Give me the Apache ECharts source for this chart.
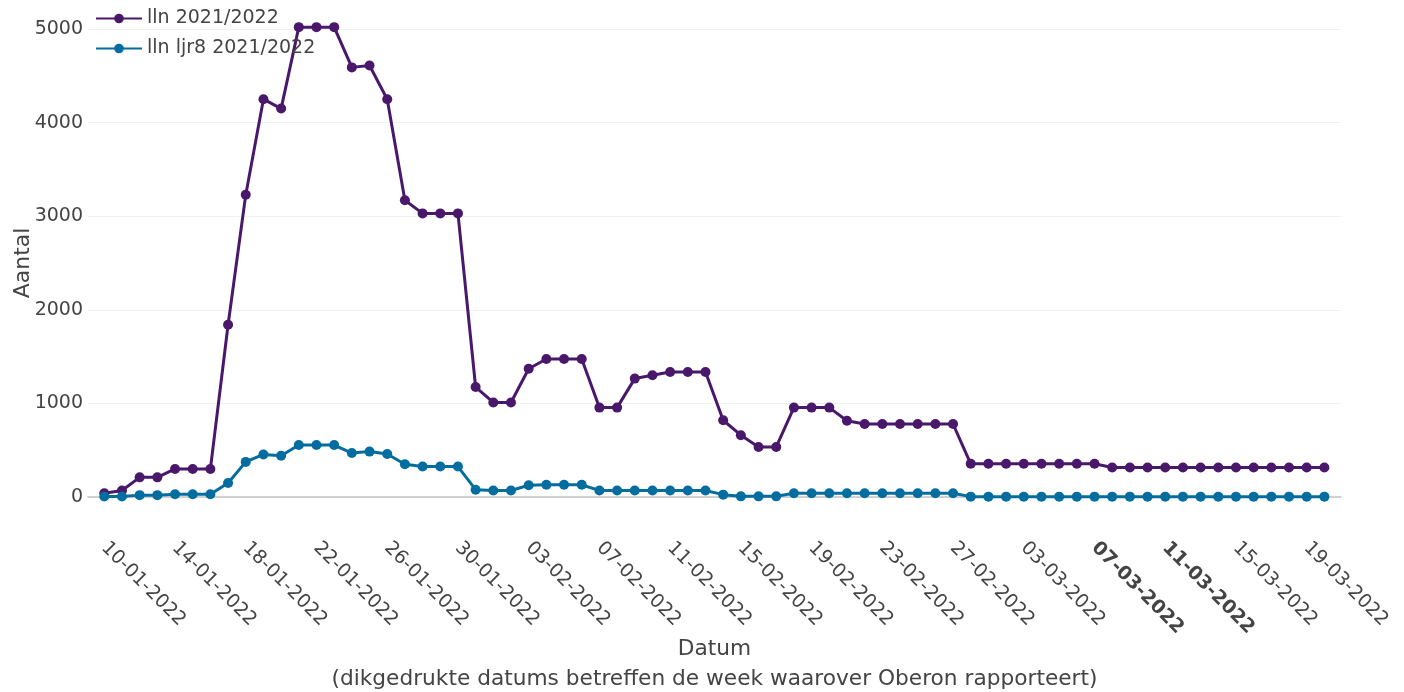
<!DOCTYPE html>
<html>
<head>
<meta charset="utf-8">
<script src="https://cdn.jsdelivr.net/npm/echarts@6/dist/echarts.min.js"></script>
<style>
html,body{margin:0;padding:0;background:#fff;}
#chart{width:1404px;height:692px;}
</style>
</head>
<body>
<div id="chart"></div>
<script>
// Dates (daily) 10-01-2022 .. 20-03-2022
const dates = [
  '10-01-2022','11-01-2022','12-01-2022','13-01-2022','14-01-2022','15-01-2022','16-01-2022','17-01-2022','18-01-2022','19-01-2022',
  '20-01-2022','21-01-2022','22-01-2022','23-01-2022','24-01-2022','25-01-2022','26-01-2022','27-01-2022','28-01-2022','29-01-2022',
  '30-01-2022','31-01-2022','01-02-2022','02-02-2022','03-02-2022','04-02-2022','05-02-2022','06-02-2022','07-02-2022','08-02-2022',
  '09-02-2022','10-02-2022','11-02-2022','12-02-2022','13-02-2022','14-02-2022','15-02-2022','16-02-2022','17-02-2022','18-02-2022',
  '19-02-2022','20-02-2022','21-02-2022','22-02-2022','23-02-2022','24-02-2022','25-02-2022','26-02-2022','27-02-2022','28-02-2022',
  '01-03-2022','02-03-2022','03-03-2022','04-03-2022','05-03-2022','06-03-2022','07-03-2022','08-03-2022','09-03-2022','10-03-2022',
  '11-03-2022','12-03-2022','13-03-2022','14-03-2022','15-03-2022','16-03-2022','17-03-2022','18-03-2022','19-03-2022','20-03-2022'
];
// Tick labels shown on the x axis
const tickDates = ['10-01-2022','14-01-2022','18-01-2022','22-01-2022','26-01-2022','30-01-2022','03-02-2022','07-02-2022','11-02-2022',
  '15-02-2022','19-02-2022','23-02-2022','27-02-2022','03-03-2022','07-03-2022','11-03-2022','15-03-2022','19-03-2022'];
const boldDates = ['07-03-2022','11-03-2022'];

const seriesNames = ['lln 2021/2022', 'lln ljr8 2021/2022'];
const lln = [
  40, 70, 210, 210, 300, 300, 300, 1840, 3230, 4250,
  4150, 5020, 5020, 5020, 4590, 4610, 4250, 3170, 3030, 3030,
  3030, 1175, 1010, 1010, 1370, 1475, 1475, 1475, 955, 955,
  1265, 1300, 1335, 1335, 1335, 820, 660, 535, 535, 955,
  955, 955, 815, 780, 780, 780, 780, 780, 780, 355,
  355, 355, 355, 355, 355, 355, 355, 315, 315, 315,
  315, 315, 315, 315, 315, 315, 315, 315, 315, 315
];
const llnLjr8 = [
  5, 5, 20, 20, 30, 30, 30, 150, 375, 455,
  440, 555, 555, 555, 470, 485, 460, 350, 325, 325,
  325, 78, 70, 70, 125, 130, 130, 130, 70, 70,
  70, 70, 70, 70, 70, 25, 7, 7, 7, 40,
  40, 40, 40, 40, 40, 40, 40, 40, 40, 4,
  4, 4, 4, 4, 4, 4, 4, 4, 4, 4,
  4, 4, 4, 4, 4, 4, 4, 4, 4, 4
];
const yTicks = [0, 1000, 2000, 3000, 4000, 5000];

const colors = ['#4a186a', '#046da0'];
const FONT = 'DejaVu Sans';
const TXT = '#444444';

const chart = echarts.init(document.getElementById('chart'), null, {renderer: 'canvas'});
const tickIdx = tickDates.map(d => dates.indexOf(d));

const option = {
  animation: false,
  backgroundColor: '#ffffff',
  color: colors,
  textStyle: {fontFamily: FONT, color: TXT},
  grid: {left: 88, right: 63, top: 29, bottom: 195, containLabel: false, outerBoundsMode: 'none'},
  legend: {
    orient: 'vertical',
    left: 95, top: 9,
    padding: 0,
    itemGap: 11,
    itemWidth: 46, itemHeight: 12,
    textStyle: {fontFamily: FONT, fontSize: 19, color: TXT},
    data: seriesNames
  },
  xAxis: {
    type: 'value',
    min: -0.922, max: 69.94,
    name: 'Datum\n(dikgedrukte datums betreffen de week waarover Oberon rapporteert)',
    nameLocation: 'middle',
    nameGap: 137,
    nameMoveOverlap: false,
    nameTextStyle: {fontFamily: FONT, fontSize: 21.7, color: TXT, lineHeight: 30},
    axisLine: {show: true, onZero: true, lineStyle: {color: '#c4c4c4', width: 1.5}},
    axisTick: {show: false},
    splitLine: {show: false},
    axisLabel: {
      customValues: tickIdx,
      rotate: -45,
      margin: 48,
      fontFamily: FONT, fontSize: 19, color: TXT,
      formatter: v => {
        const d = dates[Math.round(v)];
        return boldDates.indexOf(d) >= 0 ? '{b|' + d + '}' : d;
      },
      rich: {b: {fontFamily: FONT, fontSize: 19, fontWeight: 'bold', color: TXT}}
    }
  },
  yAxis: {
    type: 'value',
    min: 0, max: 5000, interval: 1000,
    name: 'Aantal',
    nameLocation: 'middle',
    nameGap: 54,
    nameMoveOverlap: false,
    nameTextStyle: {fontFamily: FONT, fontSize: 22, color: TXT},
    axisLine: {show: false},
    axisTick: {show: false},
    splitLine: {show: true, lineStyle: {color: '#f0f0f0', width: 1}},
    axisLabel: {margin: 5, fontFamily: FONT, fontSize: 19, color: TXT, formatter: v => String(v)}
  },
  series: [
    {
      name: seriesNames[0], type: 'line', clip: false,
      symbol: 'circle', symbolSize: 10, showSymbol: true,
      lineStyle: {width: 3, color: colors[0]},
      itemStyle: {color: colors[0]},
      data: lln.map((v, i) => [i, v])
    },
    {
      name: seriesNames[1], type: 'line', clip: false,
      symbol: 'circle', symbolSize: 10, showSymbol: true,
      lineStyle: {width: 3, color: colors[1]},
      itemStyle: {color: colors[1]},
      data: llnLjr8.map((v, i) => [i, v])
    }
  ]
};
chart.setOption(option);
</script>
</body>
</html>
